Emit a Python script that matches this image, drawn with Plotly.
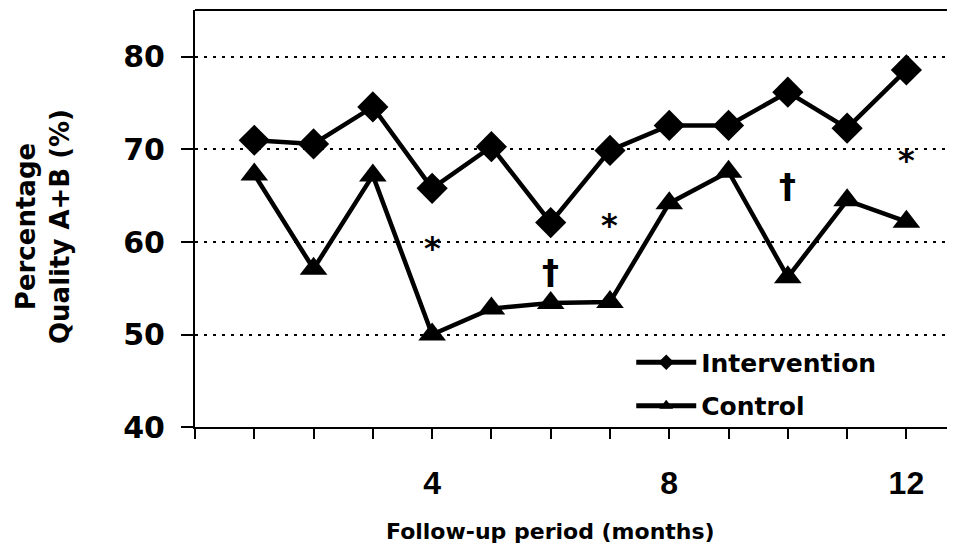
import plotly.graph_objects as go

months = [1, 2, 3, 4, 5, 6, 7, 8, 9, 10, 11, 12]
intervention = [71.0, 70.6, 74.6, 65.8, 70.3, 62.1, 69.9, 72.6, 72.6, 76.2, 72.3, 78.6]
control = [67.3, 57.1, 67.2, 50.0, 52.8, 53.4, 53.5, 64.2, 67.6, 56.2, 64.5, 62.2]

sig_x = [4, 6, 7, 10, 12]
sig_y = [59.9, 56.8, 62.4, 66.0, 69.4]
sig_text = ["*", "\u2020", "*", "\u2020", "*"]

y_ticks = [40, 50, 60, 70, 80]
x_ticks = list(range(0, 13))
x_ticktext = ["" if v not in (4, 8, 12) else str(v) for v in x_ticks]

fig = go.Figure()
fig.add_trace(go.Scatter(
    x=months, y=intervention, name="Intervention", mode="lines+markers",
    line=dict(color="black", width=4.5),
    marker=dict(symbol="diamond", size=24, color="black"),
    legendgroup="a",
))
fig.add_trace(go.Scatter(
    x=months, y=control, name="Control", mode="lines+markers",
    line=dict(color="black", width=4.5),
    marker=dict(symbol="triangle-up", size=24, color="black"),
    legendgroup="b",
))

for sx, sy, st in zip(sig_x, sig_y, sig_text):
    fig.add_annotation(x=sx, y=sy, text=st, showarrow=False,
                       xanchor="center", yanchor="middle",
                       yshift=-5 if st == "*" else 0,
                       font=dict(family="DejaVu Sans", size=32 if st == "*" else 34,
                                 color="black", weight="bold"))

fig.add_annotation(xref="paper", yref="paper", x=(550 - 195) / 760, y=-0.25,
                   text="Follow-up period (months)", showarrow=False,
                   xanchor="center", yanchor="middle",
                   font=dict(family="DejaVu Sans", size=22, color="black", weight="bold"))
fig.add_annotation(xref="paper", yref="paper", x=(43 - 195) / 760, y=(427 - 227) / 417,
                   text="Percentage<br>Quality A+B (%)", showarrow=False, textangle=-90,
                   xanchor="center", yanchor="middle",
                   font=dict(family="DejaVu Sans", size=26, color="black", weight="bold"))

fig.add_shape(type="line", xref="paper", yref="paper", x0=0, x1=1, y0=1, y1=1,
              line=dict(color="black", width=2))

# page body has an 8px margin: shrink the figure so the plot lands where the reference has it
fig.update_layout(
    width=947, height=542,
    margin=dict(l=187, r=0, t=2, b=123),
    plot_bgcolor="white", paper_bgcolor="white",
    showlegend=True,
    legend=dict(x=0.574, y=0.21, xanchor="left", yanchor="top",
                bgcolor="rgba(0,0,0,0)", itemwidth=60, tracegroupgap=8,
                itemsizing="constant",
                font=dict(family="DejaVu Sans", size=25, color="black", weight="bold")),
    xaxis=dict(range=[0, 12.82], tickvals=x_ticks, ticktext=x_ticktext,
               showgrid=False, zeroline=False, showline=True, linecolor="black", linewidth=2,
               ticks="outside", ticklen=10, tickwidth=2, tickcolor="black",
               ticklabelstandoff=17,
               tickfont=dict(family="Liberation Sans", size=32, color="black", weight="bold")),
    yaxis=dict(range=[40, 85.08], tickvals=y_ticks,
               showgrid=True, gridcolor="black", gridwidth=2, griddash="3px,6px",
               zeroline=False, showline=True, linecolor="black", linewidth=2,
               ticks="outside", ticklen=12, tickwidth=2, tickcolor="black",
               ticklabelstandoff=10,
               tickfont=dict(family="DejaVu Sans", size=30, color="black", weight="bold")),
)

fig.write_html("out.html")
